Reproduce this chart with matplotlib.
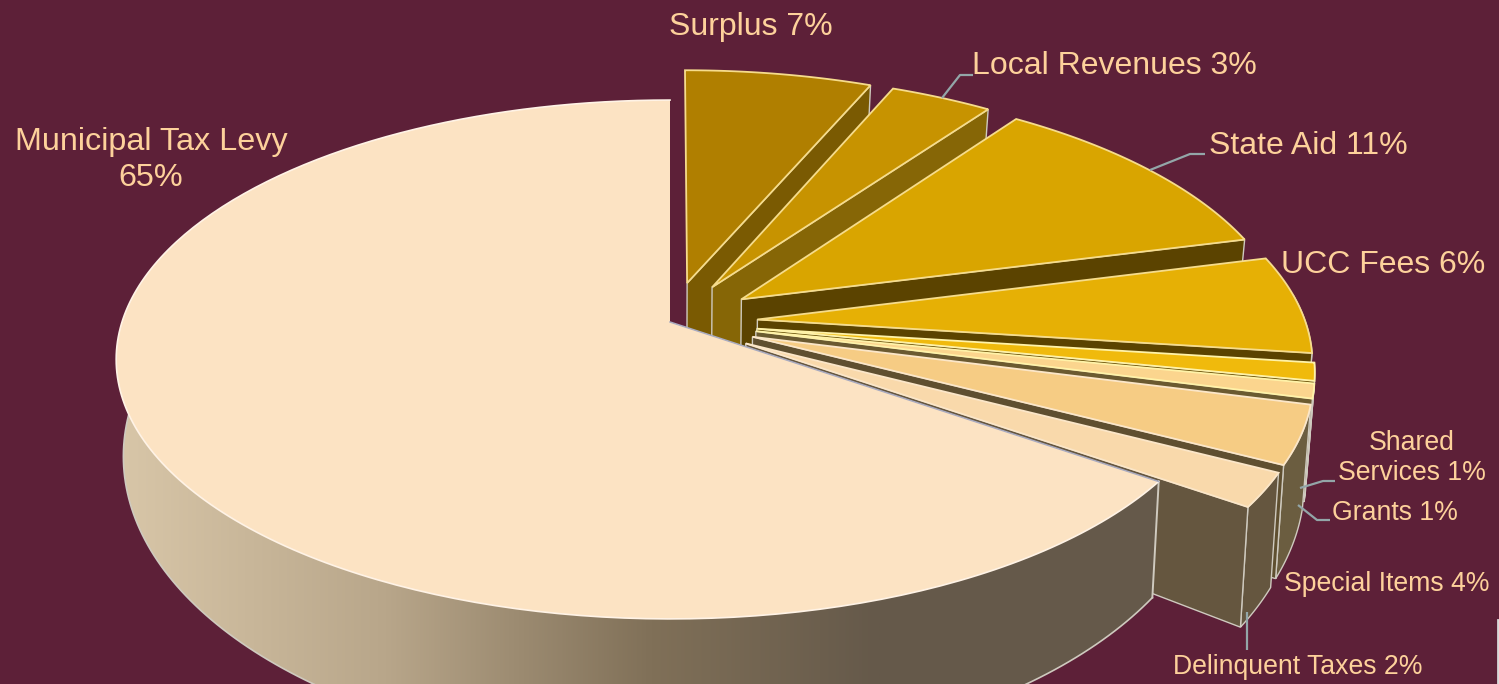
import numpy as np
import matplotlib
matplotlib.use("Agg")
import matplotlib.pyplot as plt
from matplotlib.patches import Polygon
from matplotlib.colors import LinearSegmentedColormap

# ---- data (clockwise from 12 o'clock) ----
categories = ["Surplus", "Local Revenues", "State Aid", "UCC Fees", "Shared Services",
              "Grants", "Special Items", "Delinquent Taxes", "Municipal Tax Levy"]
shares = [6.4, 3.5, 11.1, 6.1, 1.1, 0.9, 3.6, 2.1, 65.3]
label_text = ["Surplus 7%", "Local Revenues 3%", "State Aid 11%", "UCC Fees 6%",
              "Shared\nServices 1%", "Grants 1%", "Special Items 4%",
              "Delinquent Taxes 2%", "Municipal Tax Levy\n65%"]
top_colors = ["#b07f00", "#c79300", "#d9a500", "#e6b005", "#f0ba0c",
              "#fbd58e", "#f6cc84", "#f9d9ab", "#fce3c3"]
cut_colors = ["#7a5a02", "#866606", "#5b4300", "#5b4300", "#6a5208",
              "#6b5a30", "#5f4f30", "#65563f", "#65594a"]
wall_colors = ["#7a5a02", "#866606", "#6a5000", "#6b5d30", "#6b5d40",
               "#6b5d40", "#6b5d40", "#65563f", "#65594a"]
label_pos = [(751, 27), (1114, 66), (1308, 146), (1383, 265), (1412, 458),
             (1395, 513), (1387, 584), (1298, 667), (151, 160)]
label_size = [23, 23, 23, 23, 19.2, 19.2, 19.2, 19.2, 23.3]
leaders = {
    "Local Revenues": [(973, 75), (960, 75), (942, 98)],
    "State Aid": [(1205, 154), (1190, 154), (1150, 170)],
    "Shared Services": [(1335, 481), (1323, 481), (1300, 488)],
    "Grants": [(1330, 520), (1317, 520), (1298, 505)],
    "Delinquent Taxes": [(1247, 650), (1247, 612)],
}

BG = "#5d2038"
TEXT = "#fdd19b"
LEADER = "#93a6a8"

# ---- projection of the tilted disc ----
X0, Y0 = 670.0, 322.0
A, B, K = 548.0, 254.0, 0.1445
BOT_SCALE, BOT_DY, BOT_B = 0.987, 91.0, 294.0
EXPLODE = 0.16


def project(u, v, bottom=False):
    u, v = np.asarray(u, float), np.asarray(v, float)
    w = 1 + K * v
    if bottom:
        return X0 + BOT_SCALE * A * u / w, Y0 + BOT_DY - BOT_B * v / w
    return X0 + A * u / w, Y0 - B * v / w


fig = plt.figure(figsize=(14.99, 6.84), dpi=100, facecolor=BG)
ax = fig.add_axes([0, 0, 1, 1])
ax.set_facecolor(BG)

grad = LinearSegmentedColormap.from_list(
    "wall", [(0, "#d8c6a8"), (0.35, "#b8a68a"), (0.7, "#807058"), (1, "#65594a")])

start = 0.0
total = sum(shares)
for i, (cat, val) in enumerate(zip(categories, shares)):
    t0 = start / total * 2 * np.pi
    t1 = (start + val) / total * 2 * np.pi
    start += val
    ex = 0.0 if cat == "Municipal Tax Levy" else EXPLODE
    mid = (t0 + t1) / 2
    du, dv = ex * np.sin(mid), ex * np.cos(mid)
    th = np.linspace(t0, t1, 240)
    u, v = np.sin(th) + du, np.cos(th) + dv

    tx, ty = project(u, v)
    bx, by = project(u, v, bottom=True)
    ax_t, ay_t = project(du, dv)
    ax_b, ay_b = project(du, dv, bottom=True)

    # only the part of the outer wall that faces the viewer
    front = np.cos(th) < 0.1
    if front.sum() > 1:
        wall_xy = np.r_[np.c_[tx[front], ty[front]], np.c_[bx[front], by[front]][::-1]]
    else:
        wall_xy = None

    if cat == "Municipal Tax Levy":
        # the big slice has a shaded outer wall
        img = ax.imshow(np.linspace(0, 1, 256)[None, :], cmap=grad, aspect="auto",
                        extent=(120, 880, 684, 300), zorder=i * 3 + 1)
        img_right = ax.imshow(np.ones((1, 2)), cmap=grad, vmin=0, vmax=1, aspect="auto",
                              extent=(880, 1499, 684, 300), zorder=i * 3 + 1)
        clip = Polygon(wall_xy, closed=True, transform=ax.transData, fc="none", ec="none")
        ax.add_patch(clip)
        img.set_clip_path(clip)
        img_right.set_clip_path(clip)
        ax.plot(bx[front], by[front], color="#cfcabf", lw=1.2, zorder=i * 3 + 1)
        ax.plot([tx[0], bx[0]], [ty[0], by[0]], color="#cfcabf", lw=1.4, zorder=i * 3 + 1)
    else:
        if wall_xy is not None:
            ax.add_patch(Polygon(wall_xy, closed=True, fc=wall_colors[i], ec="#cfcabf", lw=1.0,
                                 zorder=i * 3 + 1))
        # radial cut face at the clockwise end
        cut = [(ax_t, ay_t), (tx[-1], ty[-1]), (bx[-1], by[-1]), (ax_b, ay_b)]
        ax.add_patch(Polygon(cut, closed=True, fc=cut_colors[i], ec="#cfcabf", lw=1.0,
                             zorder=i * 3 + 1))

    top_xy = np.r_[[(ax_t, ay_t)], np.c_[tx, ty]]
    if cat == "Municipal Tax Levy":
        ax.add_patch(Polygon(top_xy, closed=True, fc=top_colors[i], ec="none", zorder=i * 3 + 2))
        ax.plot(tx, ty, color="#fff3e6", lw=1.2, zorder=i * 3 + 2)
        ax.plot([ax_t, tx[0]], [ay_t, ty[0]], color="#a9abc0", lw=1.1, zorder=i * 3 + 2)
    else:
        edge = "#f6dc8c" if i < 4 else ("#fff2a8" if i < 6 else "#fbe6c8")
        ax.add_patch(Polygon(top_xy, closed=True, fc=top_colors[i], ec=edge, lw=1.3,
                             zorder=i * 3 + 2))

for pts in leaders.values():
    xs, ys = zip(*pts)
    ax.plot(xs, ys, color=LEADER, lw=1.6, zorder=40, solid_capstyle="butt")

for txt, (lx, ly), fs in zip(label_text, label_pos, label_size):
    ax.text(lx, ly, txt, color=TEXT, fontsize=fs, ha="center", va="center",
            family=["Liberation Sans", "DejaVu Sans"], zorder=50, linespacing=1.22)

ax.plot([1498, 1498], [620, 684], color="#d8d8d8", lw=2, zorder=60)

ax.set_xlim(0, 1499)
ax.set_ylim(684, 0)
ax.axis("off")
fig.savefig("out.png", dpi=100, facecolor=BG)
